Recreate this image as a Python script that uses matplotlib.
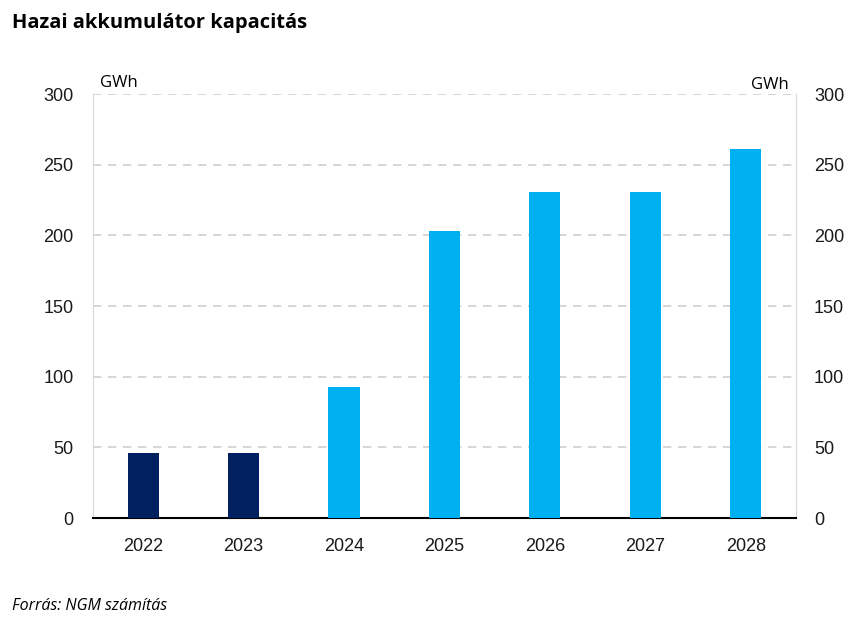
import matplotlib.pyplot as plt
import numpy as np

years = ["2022", "2023", "2024", "2025", "2026", "2027", "2028"]
values = [46, 46, 93, 203, 231, 231, 261]
colors = ["#002060", "#002060", "#00B0F0", "#00B0F0", "#00B0F0", "#00B0F0", "#00B0F0"]
yticks = [0, 50, 100, 150, 200, 250, 300]

plt.rcParams['font.family'] = ['Liberation Sans', 'DejaVu Sans']

fig = plt.figure(figsize=(8.61, 6.28), dpi=100)
ax = fig.add_axes([0.108, 0.175, 0.8165, 0.675])

x = np.arange(len(years))
ax.bar(x, values, width=0.31, color=colors, zorder=3)

ax.set_xlim(-0.5, len(years) - 0.5)
ax.set_ylim(0, 300)
ax.set_yticks(yticks)
ax.set_xticks(x)
ax.set_xticklabels(years)
ax.grid(axis="y", color="#d0d0d0", linestyle=(0, (5, 4)), linewidth=1.2, zorder=0)

ax.spines["top"].set_visible(False)
ax.spines["left"].set_color("#d9d9d9")
ax.spines["right"].set_color("#d9d9d9")
ax.spines["bottom"].set_color("black")
ax.spines["bottom"].set_linewidth(1.5)
ax.tick_params(axis="both", length=0, labelsize=13, colors="#1a1a1a")
ax.tick_params(axis="y", pad=14)
ax.tick_params(axis="x", pad=14)

ax2 = ax.twinx()
ax2.set_ylim(0, 300)
ax2.set_yticks(yticks)
ax2.tick_params(axis="y", length=0, labelsize=13, pad=13, colors="#1a1a1a")
for s in ax2.spines.values():
    s.set_visible(False)

ax.text(0.01, 1.008, "GWh", transform=ax.transAxes, fontsize=12, ha="left", va="bottom",
        family="Open Sans")
ax.text(0.99, 1.002, "GWh", transform=ax.transAxes, fontsize=12, ha="right", va="bottom",
        family="Open Sans")

fig.text(0.014, 0.963, "Hazai akkumulátor kapacitás", fontsize=14.5, fontweight="bold",
         family="Open Sans", va="center")
fig.text(0.014, 0.035, "Forrás: NGM számítás", fontsize=11.5, style="italic",
         family="Open Sans", va="center")

fig.savefig("out.png", dpi=100)
